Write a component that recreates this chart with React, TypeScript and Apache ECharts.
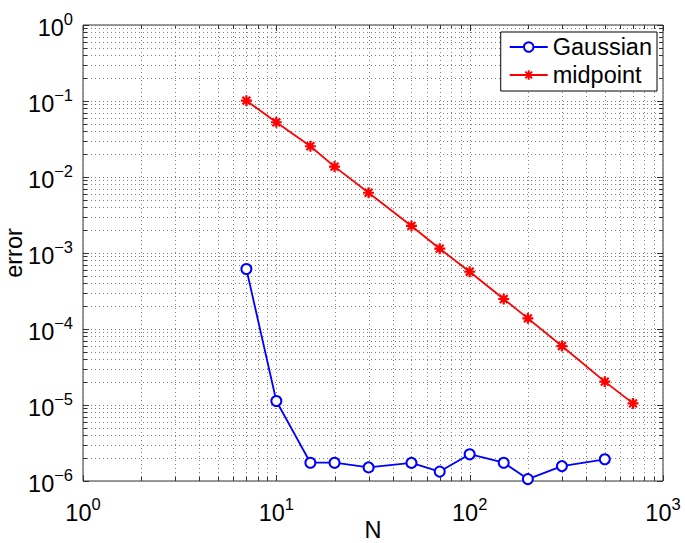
import React, { useEffect, useRef } from 'react';
import * as echarts from 'echarts';

// ---- data ----
const nGaussian = [7, 10, 15, 20, 30, 50, 70, 100, 150, 200, 300, 500];
const errGaussian = [6.15e-4, 1.13e-5, 1.74e-6, 1.74e-6, 1.51e-6, 1.73e-6, 1.33e-6, 2.25e-6, 1.74e-6, 1.06e-6, 1.57e-6, 1.93e-6];
const nMidpoint = [7, 10, 15, 20, 30, 50, 70, 100, 150, 200, 300, 500, 700];
const errMidpoint = [0.101, 0.0525, 0.0254, 0.0137, 0.00621, 0.00227, 0.00114, 5.67e-4, 2.48e-4, 1.38e-4, 5.97e-5, 2.03e-5, 1.05e-5];

const seriesNames = ['Gaussian', 'midpoint'];
const xExponents = [0, 1, 2, 3];
const yExponents = [-6, -5, -4, -3, -2, -1, 0];
const minorMultipliers = [2, 3, 4, 5, 6, 7, 8, 9];

const FONT = '"Liberation Sans", Arial, Helvetica, sans-serif';
const X_MIN = 1, X_MAX = 1000, Y_MIN = 1e-6, Y_MAX = 1;

const gridValues = (exps: number[]) => {
  const out: { v: number; major: number }[] = [];
  exps.forEach((e, i) => {
    out.push({ v: Math.pow(10, e), major: 1 });
    if (i < exps.length - 1) minorMultipliers.forEach((m) => out.push({ v: m * Math.pow(10, e), major: 0 }));
  });
  return out;
};

const ASTERISK =
  'path://M-1,-5 L1,-5 L1,5 L-1,5 Z M-5,-1 L5,-1 L5,1 L-5,1 Z ' +
  'M-4.24,-2.83 L-2.83,-4.24 L4.24,2.83 L2.83,4.24 Z ' +
  'M-2.83,4.24 L-4.24,2.83 L2.83,-4.24 L4.24,-2.83 Z';

const supFormatter = (value: number) => {
  const e = Math.round(Math.log10(value));
  const s = e < 0 ? '\u2212' + Math.abs(e) : String(e);
  return '{b|10}{s|' + s + '}';
};

const labelRich = {
  b: { fontSize: 23.5, lineHeight: 30, verticalAlign: 'bottom', fontFamily: FONT, color: '#000' },
  s: { fontSize: 16.5, lineHeight: 16, verticalAlign: 'top', fontFamily: FONT, color: '#000' },
};

const GRID_COLOR = '#808080';
const AXIS_COLOR = '#333';

const crisp = (p: number) => Math.round(p) + 0.5;

export default function App() {
  const ref = useRef<HTMLDivElement>(null);
  useEffect(() => {
    if (!ref.current) return;
    const chart = echarts.init(ref.current, undefined, { renderer: 'svg' });

    const xGrid = gridValues(xExponents).map((g) => [g.v, Y_MIN, g.major]);
    const yGrid = gridValues(yExponents).map((g) => [X_MIN, g.v, g.major]);

    const option: any = {
      animation: false,
      backgroundColor: '#fff',
      grid: {
        left: 83, right: 22, top: 25, bottom: 62,
        outerBoundsMode: 'none', containLabel: false,
        show: true, borderColor: AXIS_COLOR, borderWidth: 1, backgroundColor: '#fff',
      },
      legend: {
        data: seriesNames,
        orient: 'vertical',
        right: 28,
        top: 32,
        itemWidth: 38,
        itemHeight: 12,
        itemGap: 0,
        itemStyle: { borderWidth: 1.5 },
        padding: [1, 5, 2, 8],
        borderColor: '#000',
        borderWidth: 1,
        backgroundColor: '#fff',
        textStyle: { fontSize: 23.5, fontFamily: FONT, color: '#000', lineHeight: 28 },
      },
      xAxis: {
        type: 'log',
        logBase: 10,
        min: X_MIN,
        max: X_MAX,
        name: 'N',
        nameLocation: 'middle',
        nameGap: 37,
        nameMoveOverlap: false,
        nameTextStyle: { fontSize: 23.5, fontFamily: FONT, color: '#000' },
        axisLine: { show: false },
        axisTick: { show: false },
        splitLine: { show: false },
        axisLabel: { formatter: supFormatter, rich: labelRich, margin: 14 },
      },
      yAxis: {
        type: 'log',
        logBase: 10,
        min: Y_MIN,
        max: Y_MAX,
        name: 'error',
        nameLocation: 'middle',
        nameGap: 57,
        nameMoveOverlap: false,
        nameTextStyle: { fontSize: 23.5, fontFamily: FONT, color: '#000' },
        axisLine: { show: false },
        axisTick: { show: false },
        splitLine: { show: false },
        axisLabel: { formatter: supFormatter, rich: labelRich, margin: 10 },
      },
      series: [
        {
          type: 'custom',
          name: 'xgrid',
          z: 1,
          silent: true,
          data: xGrid,
          renderItem: (params: any, api: any) => {
            const v = api.value(0);
            const major = api.value(2) === 1;
            const pb = api.coord([v, Y_MIN]);
            const pt = api.coord([v, Y_MAX]);
            const x = crisp(pb[0]);
            const len = major ? 6 : 4;
            return {
              type: 'group',
              children: [
                { type: 'line', shape: { x1: x, y1: pb[1], x2: x, y2: pt[1] }, style: { stroke: GRID_COLOR, lineWidth: 1, lineDash: [1, 3] } },
                { type: 'line', shape: { x1: x, y1: pb[1], x2: x, y2: pb[1] - len }, style: { stroke: AXIS_COLOR, lineWidth: 1 } },
                { type: 'line', shape: { x1: x, y1: pt[1], x2: x, y2: pt[1] + len }, style: { stroke: AXIS_COLOR, lineWidth: 1 } },
              ],
            };
          },
        },
        {
          type: 'custom',
          name: 'ygrid',
          z: 1,
          silent: true,
          data: yGrid,
          renderItem: (params: any, api: any) => {
            const v = api.value(1);
            const major = api.value(2) === 1;
            const pl = api.coord([X_MIN, v]);
            const pr = api.coord([X_MAX, v]);
            const y = crisp(pl[1]);
            const len = major ? 6 : 4;
            return {
              type: 'group',
              children: [
                { type: 'line', shape: { x1: pl[0], y1: y, x2: pr[0], y2: y }, style: { stroke: GRID_COLOR, lineWidth: 1, lineDash: [1, 3] } },
                { type: 'line', shape: { x1: pl[0], y1: y, x2: pl[0] + len, y2: y }, style: { stroke: AXIS_COLOR, lineWidth: 1 } },
                { type: 'line', shape: { x1: pr[0], y1: y, x2: pr[0] - len, y2: y }, style: { stroke: AXIS_COLOR, lineWidth: 1 } },
              ],
            };
          },
        },
        {
          type: 'line',
          name: seriesNames[0],
          z: 3,
          data: nGaussian.map((n, i) => [n, errGaussian[i]]),
          symbol: 'emptyCircle',
          symbolSize: 10,
          showAllSymbol: true,
          lineStyle: { color: '#0000ff', width: 1.8 },
          itemStyle: { color: '#0000ff', borderColor: '#0000ff', borderWidth: 1.5 },
        },
        {
          type: 'line',
          name: seriesNames[1],
          z: 3,
          data: nMidpoint.map((n, i) => [n, errMidpoint[i]]),
          symbol: ASTERISK,
          symbolSize: 11,
          showAllSymbol: true,
          lineStyle: { color: '#ff0000', width: 1.8 },
          itemStyle: { color: '#ff0000', borderWidth: 0 },
        },
      ],
    };
    chart.setOption(option);
    return () => chart.dispose();
  }, []);
  return <div ref={ref} style={{ position: 'fixed', left: 0, top: 0, width: 685, height: 543 }} />;
}
